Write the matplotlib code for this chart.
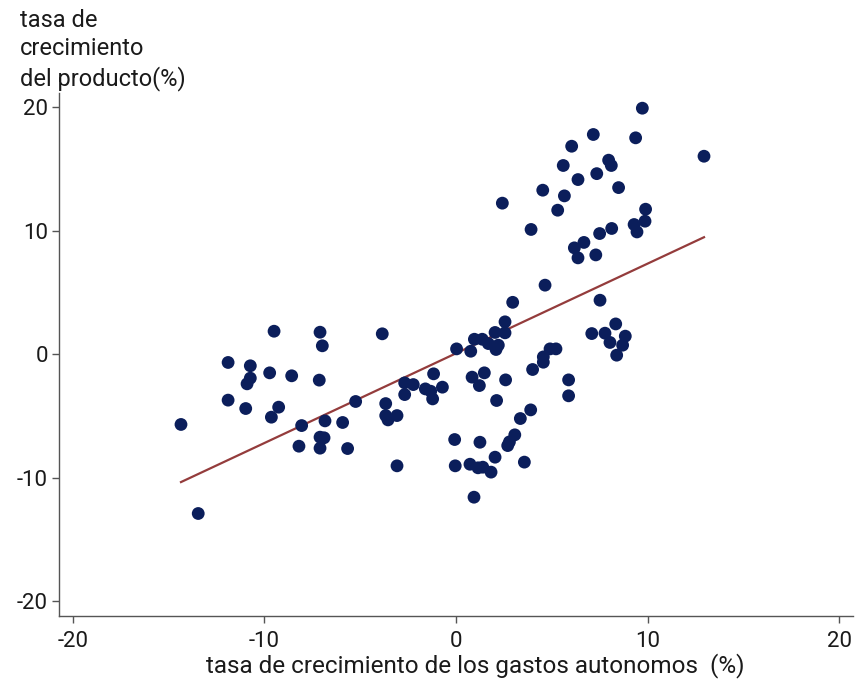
import matplotlib
matplotlib.use("Agg")
import matplotlib.pyplot as plt
import numpy as np

plt.rcParams['font.family'] = ['Roboto', 'DejaVu Sans']
plt.rcParams['axes.unicode_minus'] = False

# gasto autonomo growth (%)
x_vals = [
    -14.36, -13.46, -11.9, -11.9, -10.74, -10.74, -10.91, -10.98, -9.5, -9.73,
    -9.26, -9.64, -8.58, -7.1, -6.98, -7.14, -8.06, -8.2, -6.84, -7.1,
    -6.89, -7.1, -5.92, -5.66, -5.24, -3.85, -3.67, -3.67, -3.55, -3.08,
    -3.08, -2.68, -2.68, -2.23, -1.6, -1.32, -1.22, -1.17, -0.71, 0.03,
    -0.07, -0.04,
    2.96, 7.52, 0.77, 0.96, 1.37, 1.69, 2.04, 2.21, 2.09, 2.56,
    2.56, 0.84, 1.22, 1.48, 2.59, 2.12, 4.0, 4.56, 4.56, 4.91,
    5.22, 5.88, 5.88, 7.09, 7.78, 8.34, 8.84, 8.04, 8.7, 8.39,
    3.9, 3.36, 3.07, 2.79, 2.7, 3.57, 2.04, 1.25, 0.73, 1.15,
    1.4, 1.83, 0.94,
    9.73, 7.17, 9.38, 6.04, 12.95, 5.6, 7.97, 8.11, 7.35, 6.37,
    8.49, 4.53, 5.66, 2.42, 5.31, 9.9, 9.87, 9.3, 9.45, 8.13,
    7.5, 3.92, 6.68, 6.18, 6.37, 7.3, 4.65,
]
# producto growth (%)
y_vals = [
    -5.69, -12.9, -0.67, -3.72, -0.94, -1.94, -2.4, -4.4, 1.86, -1.51,
    -4.29, -5.1, -1.75, 1.78, 0.68, -2.1, -5.78, -7.45, -5.4, -6.72,
    -6.77, -7.61, -5.53, -7.64, -3.83, 1.65, -4.0, -4.97, -5.32, -4.97,
    -9.04, -2.32, -3.27, -2.46, -2.81, -3.0, -3.62, -1.59, -2.67, 0.43,
    -6.91, -9.04,
    4.2, 4.37, 0.24, 1.21, 1.21, 0.86, 1.76, 0.73, 0.38, 1.73,
    2.62, -1.86, -2.54, -1.51, -2.08, -3.75, -1.24, -0.22, -0.65, 0.43,
    0.43, -2.08, -3.37, 1.67, 1.7, 2.45, 1.46, 0.95, 0.73, -0.08,
    -4.51, -5.21, -6.53, -7.1, -7.4, -8.74, -8.34, -7.13, -8.91, -9.2,
    -9.15, -9.55, -11.58,
    19.92, 17.79, 17.52, 16.84, 16.03, 15.28, 15.71, 15.28, 14.62, 14.14,
    13.49, 13.28, 12.82, 12.23, 11.66, 11.74, 10.77, 10.5, 9.9, 10.18,
    9.77, 10.1, 9.05, 8.61, 7.8, 8.04, 5.59,
]

# fitted line
fit_intercept = 0.07
fit_slope = 0.726

x_ticks = [-20, -10, 0, 10, 20]
y_ticks = [-20, -10, 0, 10, 20]
x_label = "tasa de crecimiento de los gastos autonomos  (%)"
y_label = "tasa de\ncrecimiento\ndel producto(%)"

fig = plt.figure(figsize=(8.57, 6.82), dpi=100)
ax = fig.add_axes([59/857, 1-616/682, (853-59)/857, (616-93)/682])

ax.scatter(x_vals, y_vals, s=85, color='#0b1e5b', edgecolors='none', zorder=3)
xs = np.array([min(x_vals), max(x_vals)])
ax.plot(xs, fit_intercept + fit_slope * xs, color='#943c3c', lw=1.6, zorder=2)

ax.set_xlim(-20.73, 20.73)
ax.set_ylim(-21.2, 21.15)
ax.set_xticks(x_ticks)
ax.set_yticks(y_ticks)
for s in ['top', 'right']:
    ax.spines[s].set_visible(False)
for s in ['left', 'bottom']:
    ax.spines[s].set_color('#555555')
    ax.spines[s].set_linewidth(1.0)
ax.tick_params(direction='out', length=5, width=1, color='#555555',
               labelsize=16, labelcolor='#1a1a1a')
ax.tick_params(axis='x', pad=6)
ax.tick_params(axis='y', pad=3)

fig.text(0.555, 0.024, x_label, ha='center', va='center', fontsize=17.5, color='#1a1a1a')
fig.text(20/857, 1-9/682, y_label, ha='left', va='top', fontsize=17, color='#1a1a1a',
         linespacing=1.3)

fig.savefig('out.png', dpi=100)
